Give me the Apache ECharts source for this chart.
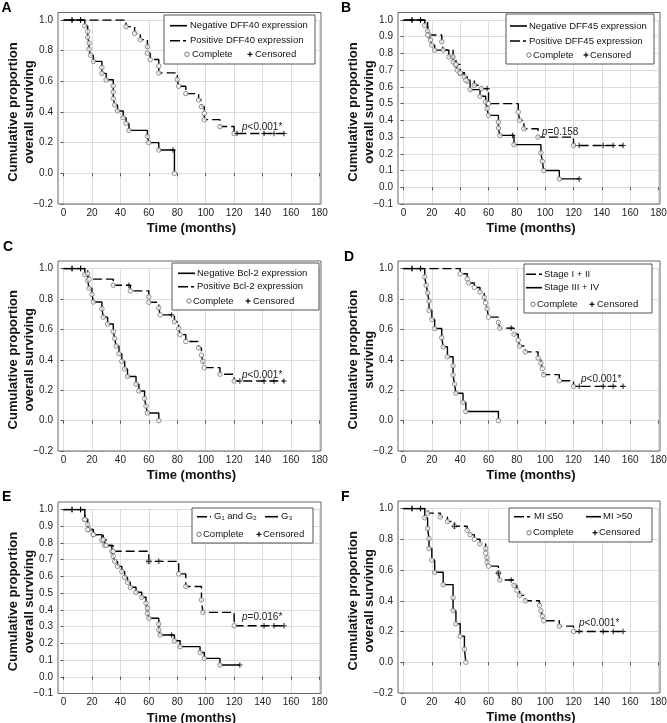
<!DOCTYPE html>
<html><head><meta charset="utf-8">
<script src="https://cdn.jsdelivr.net/npm/echarts/dist/echarts.min.js"></script>
<style>html,body{margin:0;padding:0;background:#fff}#c{width:667px;height:723px}</style>
</head><body><div id="c"></div>
<script>
// ---------------- DATA ----------------
const xTicks = [0, 20, 40, 60, 80, 100, 120, 140, 160, 180];
const yTicksWide = [-0.2, 0.0, 0.2, 0.4, 0.6, 0.8, 1.0];
const yTicksFine = [-0.1, 0.0, 0.1, 0.2, 0.3, 0.4, 0.5, 0.6, 0.7, 0.8, 0.9, 1.0];

// Panel A
const aNegT = [0, 15, 17, 17, 18, 18, 19, 21, 27, 27, 30, 35, 35, 35, 36, 38, 42, 44, 46, 59, 60, 67, 78];
const aNegS = [1.0, 0.962, 0.925, 0.888, 0.85, 0.81, 0.77, 0.73, 0.69, 0.652, 0.61, 0.57, 0.53, 0.487, 0.446, 0.407, 0.363, 0.326, 0.28, 0.24, 0.2, 0.152, 0.0];
const aNegC = [6, 12, 77];
const aPosT = [0, 44, 50, 54, 59, 59, 61, 67, 67, 80, 81, 86, 95, 97, 99, 99, 110, 120];
const aPosS = [1.0, 0.957, 0.913, 0.872, 0.826, 0.783, 0.742, 0.70, 0.655, 0.612, 0.568, 0.52, 0.478, 0.435, 0.39, 0.35, 0.305, 0.26];
const aPosC = [6, 12, 122, 141, 148, 155];

// Panel B
const bNegT = [0, 15, 17, 18, 19, 20, 22, 32, 35, 37, 38, 40, 43, 45, 47, 54, 58, 59, 60, 67, 67, 68, 78, 97, 98, 99, 110];
const bNegS = [1.0, 0.968, 0.935, 0.91, 0.88, 0.85, 0.82, 0.78, 0.75, 0.73, 0.70, 0.68, 0.66, 0.634, 0.584, 0.544, 0.51, 0.47, 0.43, 0.39, 0.354, 0.31, 0.255, 0.205, 0.155, 0.10, 0.05];
const bNegC = [6, 12, 77, 124];
const bPosT = [0, 17, 27, 28, 35, 37, 40, 44, 50, 55, 60, 81, 82, 85, 95, 120];
const bPosS = [1.0, 0.91, 0.87, 0.82, 0.78, 0.735, 0.685, 0.64, 0.61, 0.59, 0.50, 0.45, 0.40, 0.35, 0.30, 0.25];
const bPosC = [6, 12, 59, 124, 141, 148, 155];

// Panel C
const cNegT = [0, 15, 17, 18, 20, 21, 27, 28, 31, 35, 36, 37, 39, 41, 43, 45, 51, 53, 57, 58, 59, 67];
const cNegS = [1.0, 0.96, 0.92, 0.87, 0.83, 0.78, 0.735, 0.68, 0.635, 0.585, 0.54, 0.49, 0.44, 0.39, 0.34, 0.29, 0.24, 0.195, 0.145, 0.095, 0.05, 0.0];
const cNegC = [6, 12];
const cPosT = [0, 17, 18, 35, 47, 60, 60, 67, 68, 78, 81, 82, 86, 95, 97, 98, 99, 110, 120];
const cPosS = [1.0, 0.965, 0.93, 0.89, 0.853, 0.814, 0.778, 0.741, 0.695, 0.65, 0.605, 0.565, 0.52, 0.478, 0.43, 0.39, 0.348, 0.305, 0.26];
const cPosC = [6, 12, 46, 76, 124, 141, 148, 155];

// Panel D
const dEarlyT = [0, 40, 45, 46, 50, 54, 57, 58, 59, 60, 67, 68, 78, 81, 82, 86, 95, 97, 98, 99, 110, 120];
const dEarlyS = [1.0, 0.965, 0.932, 0.905, 0.875, 0.845, 0.81, 0.775, 0.735, 0.68, 0.645, 0.608, 0.568, 0.528, 0.49, 0.452, 0.412, 0.378, 0.342, 0.302, 0.262, 0.225];
const dEarlyC = [6, 12, 76, 124, 141, 148, 155];
const dLateT = [0, 15, 16, 17, 18, 18, 20, 22, 27, 28, 31, 35, 35, 36, 37, 42, 44, 67];
const dLateS = [1.0, 0.945, 0.89, 0.84, 0.785, 0.725, 0.665, 0.605, 0.545, 0.485, 0.42, 0.36, 0.30, 0.24, 0.18, 0.12, 0.06, 0.0];
const dLateC = [6, 12];

// Panel E
const eG12T = [0, 15, 17, 21, 28, 30, 35, 60, 81, 86, 97, 98, 120];
const eG12S = [1.0, 0.94, 0.88, 0.85, 0.82, 0.785, 0.75, 0.69, 0.615, 0.54, 0.46, 0.385, 0.305];
const eG12C = [6, 12, 60, 67, 141, 148, 155];
const eG3T = [0, 15, 17, 18, 21, 27, 29, 34, 35, 36, 38, 41, 43, 45, 47, 51, 55, 58, 59, 59, 60, 67, 67, 68, 78, 82, 96, 99, 110];
const eG3S = [1.0, 0.94, 0.91, 0.88, 0.85, 0.815, 0.785, 0.75, 0.72, 0.69, 0.66, 0.63, 0.595, 0.565, 0.535, 0.505, 0.475, 0.44, 0.41, 0.38, 0.35, 0.315, 0.28, 0.25, 0.215, 0.18, 0.145, 0.11, 0.07];
const eG3C = [6, 12, 76, 124];

// Panel F
const fLowT = [0, 17, 26, 31, 36, 45, 47, 50, 54, 58, 58, 59, 59, 60, 67, 68, 78, 80, 82, 86, 96, 97, 98, 99, 110, 120];
const fLowS = [1.0, 0.97, 0.945, 0.915, 0.885, 0.858, 0.83, 0.80, 0.77, 0.74, 0.71, 0.68, 0.65, 0.625, 0.58, 0.535, 0.50, 0.468, 0.435, 0.40, 0.37, 0.335, 0.30, 0.27, 0.235, 0.20];
const fLowC = [6, 12, 36, 67, 76, 124, 141, 148, 155];
const fHighT = [0, 15, 17, 18, 18, 20, 22, 28, 35, 35, 37, 40, 43, 44];
const fHighS = [1.0, 0.94, 0.87, 0.805, 0.74, 0.665, 0.585, 0.505, 0.42, 0.335, 0.25, 0.17, 0.085, 0.0];
const fHighC = [6, 12];

// Text
const panelLetters = ['A', 'B', 'C', 'D', 'E', 'F'];
const pTexts = ['<0.001*', '=0.158', '<0.001*', '<0.001*', '=0.016*', '<0.001*'];
const yTitleFull = 'Cumulative proportion\noverall surviving';
const yTitleShort = 'Cumulative proportion\nsurviving';
const xTitle = 'Time (months)';
const markerNames = ['Complete', 'Censored'];

// ---------------- LAYOUT ----------------
const FONT = '"Liberation Sans", Arial, sans-serif';
const DASH = [9, 4];
const panels = [
  {g:{l:63.5, t:20, w:256, h:184}, yt:yTicksWide, yname:yTitleFull,
   curves:[{T:aNegT,S:aNegS,C:aNegC,d:false},{T:aPosT,S:aPosS,C:aPosC,d:true}],
   letter:[1.5, 8.5], p:[242, 127]},
  {g:{l:403.5, t:20, w:255, h:184}, yt:yTicksFine, yname:yTitleFull,
   curves:[{T:bNegT,S:bNegS,C:bNegC,d:false},{T:bPosT,S:bPosS,C:bPosC,d:true}],
   letter:[341, 8], p:[542, 132]},
  {g:{l:63.5, t:268.5, w:256, h:182.5}, yt:yTicksWide, yname:yTitleFull,
   curves:[{T:cNegT,S:cNegS,C:cNegC,d:false},{T:cPosT,S:cPosS,C:cPosC,d:true}],
   letter:[3, 247], p:[242, 375]},
  {g:{l:403.5, t:268.5, w:255, h:182.5}, yt:yTicksWide, yname:yTitleShort,
   curves:[{T:dLateT,S:dLateS,C:dLateC,d:false},{T:dEarlyT,S:dEarlyS,C:dEarlyC,d:true}],
   letter:[344, 257], p:[581, 379]},
  {g:{l:63.5, t:509.5, w:256, h:184}, yt:yTicksFine, yname:yTitleFull,
   curves:[{T:eG3T,S:eG3S,C:eG3C,d:false},{T:eG12T,S:eG12S,C:eG12C,d:true}],
   letter:[2, 497.5], p:[242, 617]},
  {g:{l:403.5, t:508.5, w:255, h:184.5}, yt:yTicksWide, yname:yTitleFull,
   curves:[{T:fHighT,S:fHighS,C:fHighC,d:false},{T:fLowT,S:fLowS,C:fLowC,d:true}],
   letter:[341, 497.5], p:[579, 623]}
];

function survAt(T, S, t) { let v = S[0]; for (let i = 0; i < T.length; i++) if (T[i] <= t) v = S[i]; return v; }
const PLUS = 'path://M0,4H10V6H0Z M4,0H6V10H4Z';

const grids = [], xAxes = [], yAxes = [], series = [], graphics = [];
panels.forEach((p, i) => {
  const g = p.g;
  grids.push({left:g.l, top:g.t, width:g.w, height:g.h, containLabel:false, outerBoundsMode:'none', show:false});
  xAxes.push({type:'value', gridIndex:i, min:xTicks[0], max:xTicks[xTicks.length-1], interval:xTicks[1]-xTicks[0],
    axisLine:{show:false}, axisTick:{show:true, length:3, lineStyle:{color:'#555'}},
    axisLabel:{fontSize:10, color:'#222', fontFamily:FONT, margin:4},
    splitLine:{show:true, lineStyle:{color:'#dcdcdc', width:1}},
    name:xTitle, nameLocation:'middle', nameGap:18, nameMoveOverlap:false,
    nameTextStyle:{fontSize:13, fontWeight:'bold', color:'#111', fontFamily:FONT}});
  const yt = p.yt;
  yAxes.push({type:'value', gridIndex:i, min:yt[0], max:yt[yt.length-1], interval:Math.round((yt[1]-yt[0])*10)/10,
    offset:5.5, axisLine:{show:false}, axisTick:{show:true, length:3, lineStyle:{color:'#555'}},
    axisLabel:{fontSize:10, color:'#222', fontFamily:FONT, margin:5,
      formatter:v => (v < -1e-9 ? '\u2212' : '') + Math.abs(v).toFixed(1)},
    splitLine:{show:true, lineStyle:{color:'#dcdcdc', width:1}},
    name:p.yname, nameLocation:'middle', nameGap:21, nameRotate:90, nameMoveOverlap:false,
    nameTextStyle:{fontSize:13, fontWeight:'bold', color:'#111', fontFamily:FONT, lineHeight:16}});
  p.curves.forEach(c => {
    const last = c.T[c.T.length-1];
    const end = Math.max(last, ...c.C);
    const lineData = c.T.map((t, k) => [t, c.S[k]]);
    if (end > last) lineData.push([end, c.S[c.S.length-1]]);
    series.push({type:'line', xAxisIndex:i, yAxisIndex:i, data:lineData, step:'end', symbol:'none', showSymbol:false,
      lineStyle:{color:'#000', width:1.4, type:c.d ? DASH : 'solid'}, silent:true, z:2});
    series.push({type:'scatter', xAxisIndex:i, yAxisIndex:i, symbol:'circle', symbolSize:4.5,
      data:c.T.slice(1).map((t, k) => [t, c.S[k+1]]),
      itemStyle:{color:'#fff', borderColor:'#666', borderWidth:0.9}, silent:true, z:3});
    series.push({type:'scatter', xAxisIndex:i, yAxisIndex:i, symbol:PLUS, symbolSize:5.5,
      data:c.C.map(t => [t, survAt(c.T, c.S, t)]),
      itemStyle:{color:'#000'}, silent:true, z:4});
  });
  graphics.push({type:'rect', shape:{x:g.l-5.5, y:g.t-7.5, width:g.w+7, height:g.h+7.5},
    style:{fill:'none', stroke:'#666', lineWidth:1}, z:1, silent:true});
  graphics.push({type:'text', x:p.letter[0], y:p.letter[1], style:{text:panelLetters[i], font:'bold 14px ' + FONT,
    fill:'#000', align:'left', verticalAlign:'middle'}});
  graphics.push({type:'text', x:p.p[0], y:p.p[1], style:{text:'{i|p}' + pTexts[i], font:'10px ' + FONT, fill:'#222',
    align:'left', verticalAlign:'middle', rich:{i:{fontStyle:'italic', fontSize:10, fontFamily:FONT, fill:'#222'}}}, z:10});
});

const LF = '9.5px ' + FONT;
function box(x, y, w, h) { graphics.push({type:'rect', shape:{x, y, width:w, height:h}, style:{fill:'#fff', stroke:'#555', lineWidth:1}, z:20}); }
function sample(x1, x2, y, dash) { graphics.push({type:'line', shape:{x1, y1:y, x2, y2:y}, style:{stroke:'#000', lineWidth:1.6, lineDash:dash ? [10,3,3,3] : null}, z:21}); }
function txt(x, y, s) { graphics.push({type:'text', x, y, style:{text:s, font:LF, fill:'#111', align:'left', verticalAlign:'middle'}, z:21}); }
function circ(x, y) { graphics.push({type:'circle', shape:{cx:x, cy:y, r:2.2}, style:{fill:'#fff', stroke:'#666', lineWidth:0.9}, z:21}); }
function plus(x, y) {
  graphics.push({type:'rect', shape:{x:x-2.5, y:y-0.6, width:5, height:1.2}, style:{fill:'#000'}, z:21});
  graphics.push({type:'rect', shape:{x:x-0.6, y:y-2.5, width:1.2, height:5}, style:{fill:'#000'}, z:21});
}
function markerRow(y, cx, tx, px, ptx) { circ(cx, y); txt(tx, y, markerNames[0]); plus(px, y); txt(ptx, y, markerNames[1]); }

box(164, 15, 151, 49);
sample(170, 187, 25.7, false); txt(190, 25.7, 'Negative DFF40 expression');
sample(170, 187, 40.7, true); txt(190, 40.7, 'Positive DFF40 expression');
markerRow(54.3, 187, 192, 250, 255);
box(506, 14, 148, 50);
sample(510, 527, 26, false); txt(529, 26, 'Negative DFF45 expression');
sample(510, 527, 41, true); txt(529, 41, 'Positive DFF45 expression');
markerRow(55, 529, 533, 586, 590);
box(172, 263, 147, 47);
sample(178, 195, 273.3, false); txt(197, 273.3, 'Negative Bcl-2 expression');
sample(178, 195, 286.7, true); txt(197, 286.7, 'Positive Bcl-2 expression');
markerRow(301, 189, 193, 248, 253);
box(524, 264, 128, 49);
sample(526, 542, 274.3, true); txt(544, 274.3, 'Stage I + II');
sample(526, 542, 287.7, false); txt(544, 287.7, 'Stage III + IV');
markerRow(304.3, 533, 537, 592, 597);
box(192, 508, 121, 35);
sample(197, 211, 516.7, true); txt(214, 516.7, 'G\u2081 and G\u2082');
sample(265, 278, 516.7, false); txt(281, 516.7, 'G\u2083');
markerRow(534.3, 199, 203, 259, 263);
box(509, 508, 143, 34);
sample(514, 531, 516.7, true); txt(534, 516.7, 'MI \u226450');
sample(586, 601, 516.7, false); txt(603, 516.7, 'MI >50');
markerRow(532.7, 529, 533, 595, 599);

const chart = echarts.init(document.getElementById('c'), null, {renderer:'canvas'});
chart.setOption({
  animation:false,
  backgroundColor:'#fff',
  grid:grids, xAxis:xAxes, yAxis:yAxes, series:series, graphic:{elements:graphics}
});
</script></body></html>
